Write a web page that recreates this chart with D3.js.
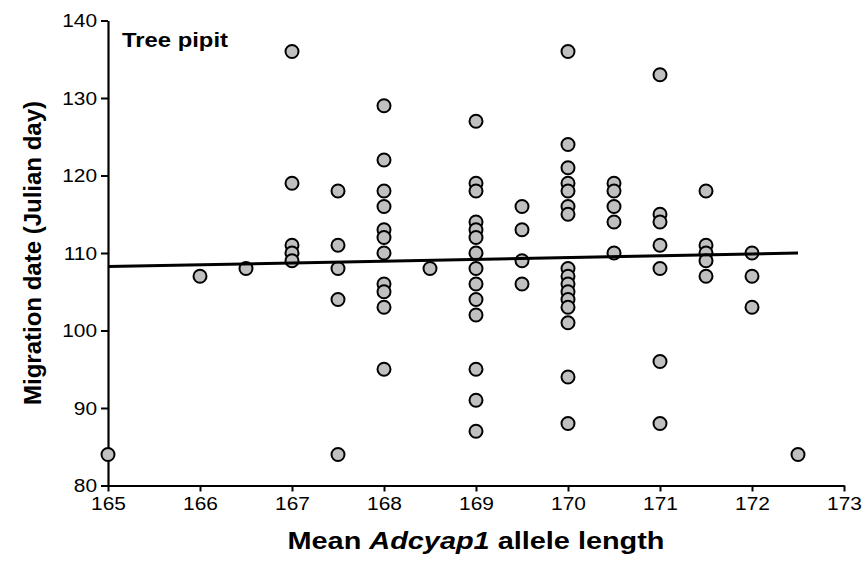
<!DOCTYPE html>
<html>
<head>
<meta charset="utf-8">
<script src="https://cdn.jsdelivr.net/npm/d3@7/dist/d3.min.js"></script>
<style>
  html, body { margin: 0; padding: 0; background: #fff; }
  svg { display: block; }
  text { font-family: "Liberation Sans", Arial, sans-serif; }
</style>
</head>
<body>
<svg id="chart" width="868" height="565"></svg>
<script>
// Mean Adcyap1 allele length of each group of birds
const alleleLengths = [165, 166, 166.5, 167, 167.5, 168, 168.5, 169, 169.5, 170, 170.5, 171, 171.5, 172, 172.5];

// Migration dates (Julian day) recorded for each allele length above
const migrationDays = [
  [84],
  [107],
  [108],
  [136, 119, 111, 110, 109],
  [118, 111, 108, 104, 84],
  [129, 122, 118, 116, 113, 112, 110, 106, 105, 103, 95],
  [108],
  [127, 119, 118, 114, 113, 112, 110, 108, 106, 104, 102, 95, 91, 87],
  [116, 113, 109, 106],
  [136, 124, 121, 119, 118, 116, 115, 108, 107, 106, 105, 104, 103, 101, 94, 88],
  [119, 118, 116, 114, 110],
  [133, 115, 114, 111, 108, 96, 88],
  [118, 111, 110, 109, 107],
  [110, 107, 103],
  [84]
];

// Fitted trend line end points [allele length, day]
const trendLine = [[165, 108.25], [172.5, 110.0]];

const xTicks = [165, 166, 167, 168, 169, 170, 171, 172, 173];
const yTicks = [80, 90, 100, 110, 120, 130, 140];

const points = [];
alleleLengths.forEach((len, i) => {
  migrationDays[i].forEach(day => points.push({ len, day }));
});

const svg = d3.select("#chart");
const x = d3.scaleLinear().domain([165, 173]).range([108, 844]);
const y = d3.scaleLinear().domain([80, 140]).range([485.5, 20.5]);

// Axes
const xAxis = svg.append("g")
  .attr("transform", `translate(0,${y(80)})`)
  .call(d3.axisBottom(x).tickValues(xTicks).tickSize(6).tickSizeOuter(0).tickPadding(5));
const yAxis = svg.append("g")
  .attr("transform", `translate(${x(165)},0)`)
  .call(d3.axisLeft(y).tickValues(yTicks).tickSize(7).tickSizeOuter(0).tickPadding(5));

[xAxis, yAxis].forEach(g => {
  g.select(".domain").attr("stroke", "#000").attr("stroke-width", 2.2);
  g.selectAll(".tick line").attr("stroke", "#000").attr("stroke-width", 2);
  g.selectAll(".tick text")
    .attr("fill", "#000")
    .attr("font-family", "'Liberation Sans', Arial, sans-serif")
    .attr("font-size", 19);
});
xAxis.selectAll(".tick text").attr("transform", "scale(1.1,1)");
yAxis.selectAll(".tick text").attr("x", -10).attr("transform", "scale(1.1,1)");

// Scatter points
svg.append("g")
  .selectAll("circle")
  .data(points)
  .join("circle")
  .attr("cx", d => x(d.len))
  .attr("cy", d => y(d.day))
  .attr("r", 6.5)
  .attr("fill", "#c0c0c0")
  .attr("stroke", "#000")
  .attr("stroke-width", 2);

// Trend line
svg.append("path")
  .datum(trendLine)
  .attr("fill", "none")
  .attr("stroke", "#000")
  .attr("stroke-width", 3)
  .attr("d", d3.line().x(d => x(d[0])).y(d => y(d[1])));

// Species label
svg.append("text")
  .attr("x", 122)
  .attr("y", 46.5)
  .attr("font-size", 20)
  .attr("font-weight", "bold")
  .attr("textLength", 106)
  .attr("lengthAdjust", "spacingAndGlyphs")
  .text("Tree pipit");

// Axis titles
const xTitle = svg.append("text")
  .attr("x", (x(165) + x(173)) / 2)
  .attr("y", 549)
  .attr("text-anchor", "middle")
  .attr("font-size", 24)
  .attr("font-weight", "bold")
  .attr("textLength", 377)
  .attr("lengthAdjust", "spacingAndGlyphs");
xTitle.append("tspan").text("Mean ");
xTitle.append("tspan").attr("font-style", "italic").text("Adcyap1");
xTitle.append("tspan").text(" allele length");

svg.append("text")
  .attr("transform", `translate(41,${(y(80) + y(140)) / 2}) rotate(-90)`)
  .attr("text-anchor", "middle")
  .attr("font-size", 24)
  .attr("font-weight", "bold")
  .text("Migration date (Julian day)");
</script>
</body>
</html>
